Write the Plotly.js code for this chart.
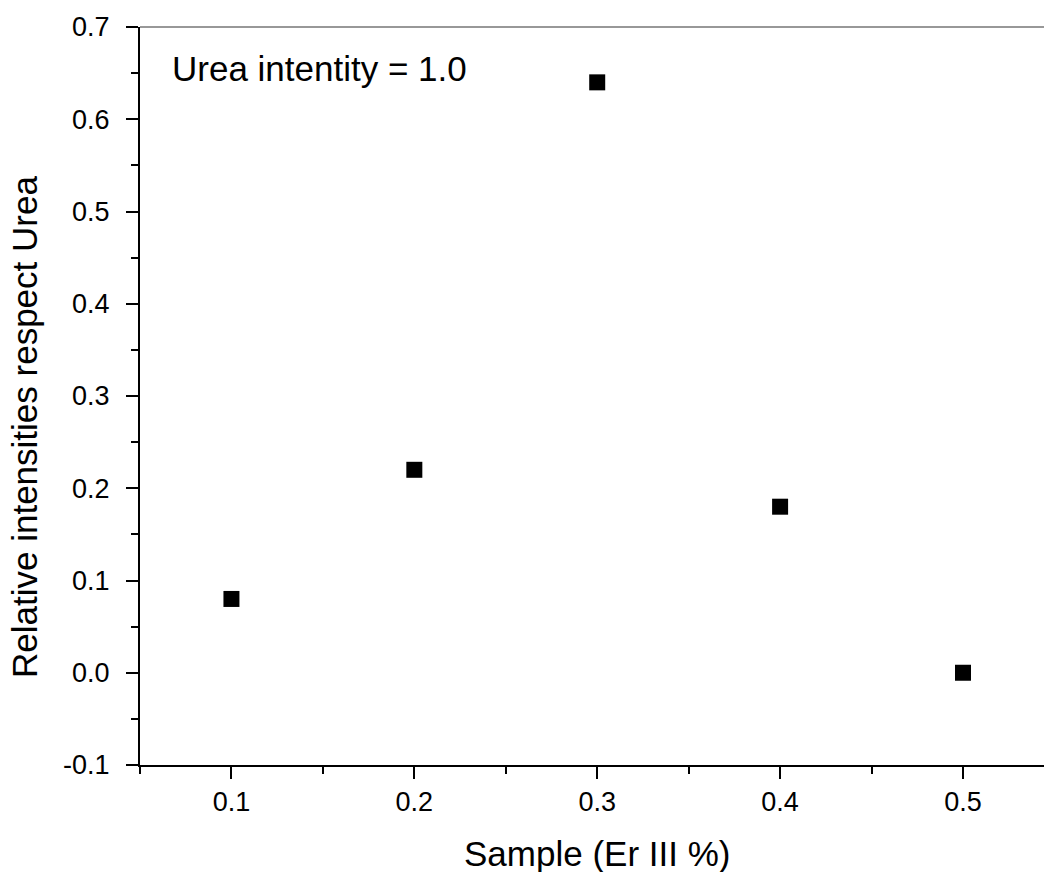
<!DOCTYPE html>
<html>
<head>
<meta charset="utf-8">
<script src="https://cdn.plot.ly/plotly-3.0.1.min.js"></script>
<style>html,body{margin:0;padding:0;background:#fff;overflow:hidden;}</style>
</head>
<body>
<div id="chart" style="width:1044px;height:872px;"></div>
<script>
const sampleX = [0.1, 0.2, 0.3, 0.4, 0.5];
const relIntensity = [0.08, 0.22, 0.64, 0.18, 0.0];
const xTickVals = [0.1, 0.2, 0.3, 0.4, 0.5];
const yTickVals = [-0.1, 0.0, 0.1, 0.2, 0.3, 0.4, 0.5, 0.6, 0.7];
const yTickText = ["-0.1", "0.0", "0.1", "0.2", "0.3", "0.4", "0.5", "0.6", "0.7"];
const xTitle = "Sample (Er III %)";
const yTitle = "Relative intensities respect Urea";
const noteText = "Urea intentity = 1.0";

const FONT = "Liberation Sans, Arial, sans-serif";

const trace = {
  x: sampleX, y: relIntensity, type: 'scatter', mode: 'markers',
  marker: {symbol: 'square', size: 16, color: '#000'},
  showlegend: false, hoverinfo: 'x+y'
};

const layout = {
  width: 1044, height: 872,
  margin: {l: 140, r: 0, t: 27, b: 107, pad: 0},
  paper_bgcolor: '#fff', plot_bgcolor: '#fff',
  font: {family: FONT, color: '#000', size: 27},
  xaxis: {
    range: [0.05, 0.5443], showgrid: false, zeroline: false,
    showline: true, linecolor: '#000', linewidth: 2,
    ticks: 'outside', ticklen: 12, tickwidth: 2, tickcolor: '#000',
    tickmode: 'array', tickvals: xTickVals, ticktext: xTickVals.map(v => v.toFixed(1)),
    tickfont: {family: FONT, size: 27, color: '#000'},
    automargin: false,
    minor: {dtick: 0.05, tick0: 0.05, ticks: 'outside', ticklen: 7, tickwidth: 2, tickcolor: '#000', showgrid: false},
    fixedrange: true
  },
  yaxis: {
    range: [-0.1, 0.7], showgrid: false, zeroline: false,
    showline: true, linecolor: '#000', linewidth: 2,
    ticks: 'outside', ticklen: 12, tickwidth: 2, tickcolor: '#000',
    tickmode: 'array', tickvals: yTickVals, ticktext: yTickText,
    tickfont: {family: FONT, size: 27, color: '#000'},
    ticklabelstandoff: 11,
    automargin: false,
    minor: {dtick: 0.05, tick0: -0.1, ticks: 'outside', ticklen: 7, tickwidth: 2, tickcolor: '#000', showgrid: false},
    fixedrange: true
  },
  shapes: [{
    type: 'line', xref: 'paper', yref: 'paper', x0: 0, x1: 1, y0: 1, y1: 1,
    line: {color: '#333', width: 1.2}
  }],
  annotations: [
    {text: noteText, xref: 'paper', yref: 'paper', x: 0.0332, y: 0.9444,
     xanchor: 'left', yanchor: 'middle', showarrow: false,
     font: {family: FONT, size: 35, color: '#000'}},
    {text: xTitle, xref: 'x', yref: 'paper', x: 0.3, y: -0.1195,
     xanchor: 'center', yanchor: 'middle', showarrow: false,
     font: {family: FONT, size: 35, color: '#000'}},
    {text: yTitle, xref: 'paper', yref: 'paper', x: -0.1272, y: 0.458,
     xanchor: 'center', yanchor: 'middle', textangle: -90, showarrow: false,
     font: {family: FONT, size: 35, color: '#000'}}
  ]
};

Plotly.newPlot('chart', [trace], layout, {displayModeBar: false, staticPlot: true});
</script>
</body>
</html>
